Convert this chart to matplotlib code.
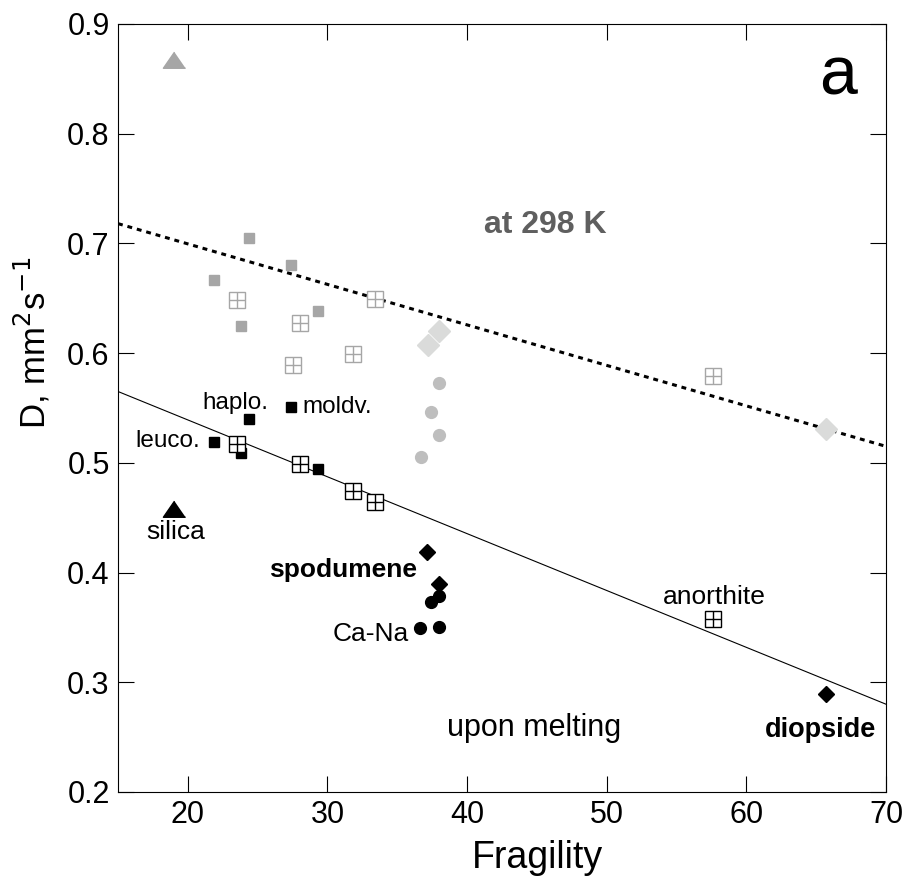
import numpy as np
import matplotlib.pyplot as plt

plt.rcParams['font.family'] = ['Liberation Sans', 'DejaVu Sans']

# at 298 K (grey symbols)
tri_298 = ([19.0], [0.867])
sq_298_x = [24.4, 27.4, 21.9, 23.8, 29.3]
sq_298_y = [0.705, 0.680, 0.667, 0.625, 0.638]
grid_298_x = [23.5, 28.0, 33.4, 27.5, 31.8, 57.6]
grid_298_y = [0.648, 0.627, 0.649, 0.589, 0.599, 0.579]
dia_298_x = [37.2, 38.0, 65.7]
dia_298_y = [0.607, 0.620, 0.531]
circ_298_x = [38.0, 37.4, 38.0, 36.7]
circ_298_y = [0.573, 0.546, 0.525, 0.505]

# upon melting (black symbols)
tri_melt = ([19.0], [0.458])
sq_melt_x = [24.4, 27.4, 21.9, 23.8, 29.3]
sq_melt_y = [0.540, 0.551, 0.519, 0.509, 0.494]
grid_melt_x = [23.5, 28.0, 31.8, 33.4, 57.6]
grid_melt_y = [0.517, 0.499, 0.474, 0.464, 0.358]
dia_melt_x = [37.1, 38.0, 65.7]
dia_melt_y = [0.419, 0.390, 0.289]
circ_melt_x = [38.0, 37.4, 36.6, 38.0]
circ_melt_y = [0.379, 0.373, 0.349, 0.350]

# trend lines
fit_x = [15, 70]
fit_298 = [0.718, 0.515]
fit_melt = [0.565, 0.280]

#%%

fig = plt.figure(figsize=(9.1, 8.84), dpi=100)
ax = fig.add_axes([0.1297, 0.1041, 0.8439, 0.8688])

grey = '#a6a6a6'
tri_marker = [(0, 0.75), (-1, -0.7), (1, -0.7)]

ax.plot(fit_x, fit_298, color='black', lw=2.2, dashes=(1.6, 1.6), zorder=1)
ax.plot(fit_x, fit_melt, color='black', lw=0.8, zorder=1)

ax.plot(*tri_298, ls='none', marker=tri_marker, ms=16, color=grey, mec=grey)
ax.plot(sq_298_x, sq_298_y, ls='none', marker='s', ms=7.5, color=grey, mec=grey)
ax.plot(grid_298_x, grid_298_y, ls='none', marker='s', ms=11, mfc='white',
        mec=grey, mew=1.0)
ax.plot(grid_298_x, grid_298_y, ls='none', marker='+', ms=11, mec=grey, mew=1.0)
ax.plot(dia_298_x, dia_298_y, ls='none', marker='D', ms=11, color='#dadbda',
        mec='#dadbda')
ax.plot(circ_298_x, circ_298_y, ls='none', marker='o', ms=8.5, color='#bebebe',
        mec='#bebebe')

ax.plot(*tri_melt, ls='none', marker=tri_marker, ms=16, color='black')
ax.plot(sq_melt_x, sq_melt_y, ls='none', marker='s', ms=7.8, color='black')
ax.plot(grid_melt_x, grid_melt_y, ls='none', marker='s', ms=11, mfc='white',
        mec='black', mew=1.0)
ax.plot(grid_melt_x, grid_melt_y, ls='none', marker='+', ms=11, mec='black', mew=1.0)
ax.plot(dia_melt_x, dia_melt_y, ls='none', marker='D', ms=8, color='black')
ax.plot(circ_melt_x, circ_melt_y, ls='none', marker='o', ms=8.5, color='black')

# labels
ax.text(23.4, 0.549, 'haplo.', fontsize=17.5, ha='center', va='baseline')
ax.text(28.2, 0.545, 'moldv.', fontsize=17.5, ha='left', va='baseline')
ax.text(20.9, 0.514, 'leuco.', fontsize=17.5, ha='right', va='baseline')
ax.text(19.1, 0.431, 'silica', fontsize=19, ha='center', va='baseline')
ax.text(36.4, 0.396, 'spodumene', fontsize=19, fontweight='bold', ha='right',
        va='baseline')
ax.text(35.8, 0.338, 'Ca-Na', fontsize=19, ha='right', va='baseline')
ax.text(57.7, 0.371, 'anorthite', fontsize=19, ha='center', va='baseline')
ax.text(44.8, 0.251, 'upon melting', fontsize=22, ha='center', va='baseline')
ax.text(65.3, 0.250, 'diopside', fontsize=19.5, fontweight='bold', ha='center',
        va='baseline')
ax.text(45.6, 0.7096, 'at 298 K', fontsize=23, fontweight='bold', color='#5f5f5f',
        ha='center', va='baseline')
ax.text(66.55, 0.836, 'a', fontsize=49, ha='center', va='baseline')

ax.set_xlim(15, 70)
ax.set_ylim(0.2, 0.9)
ax.set_xticks(np.arange(20, 71, 10))
ax.set_yticks(np.arange(0.2, 0.91, 0.1))
ax.set_yticklabels(['0.2', '0.3', '0.4', '0.5', '0.6', '0.7', '0.8', '0.9'])
ax.tick_params(direction='in', length=11.5, width=0.8, labelsize=22,
               top=True, right=True, pad=6)
for s in ax.spines.values():
    s.set_linewidth(0.8)

ax.set_xlabel('Fragility', fontsize=27)
ax.xaxis.set_label_coords(0.546, -0.063)
ax.set_ylabel('D, mm$^2$s$^{-1}$', fontsize=25)
ax.yaxis.set_label_coords(-0.085, 0.585)

plt.savefig('out.png', dpi=100)
